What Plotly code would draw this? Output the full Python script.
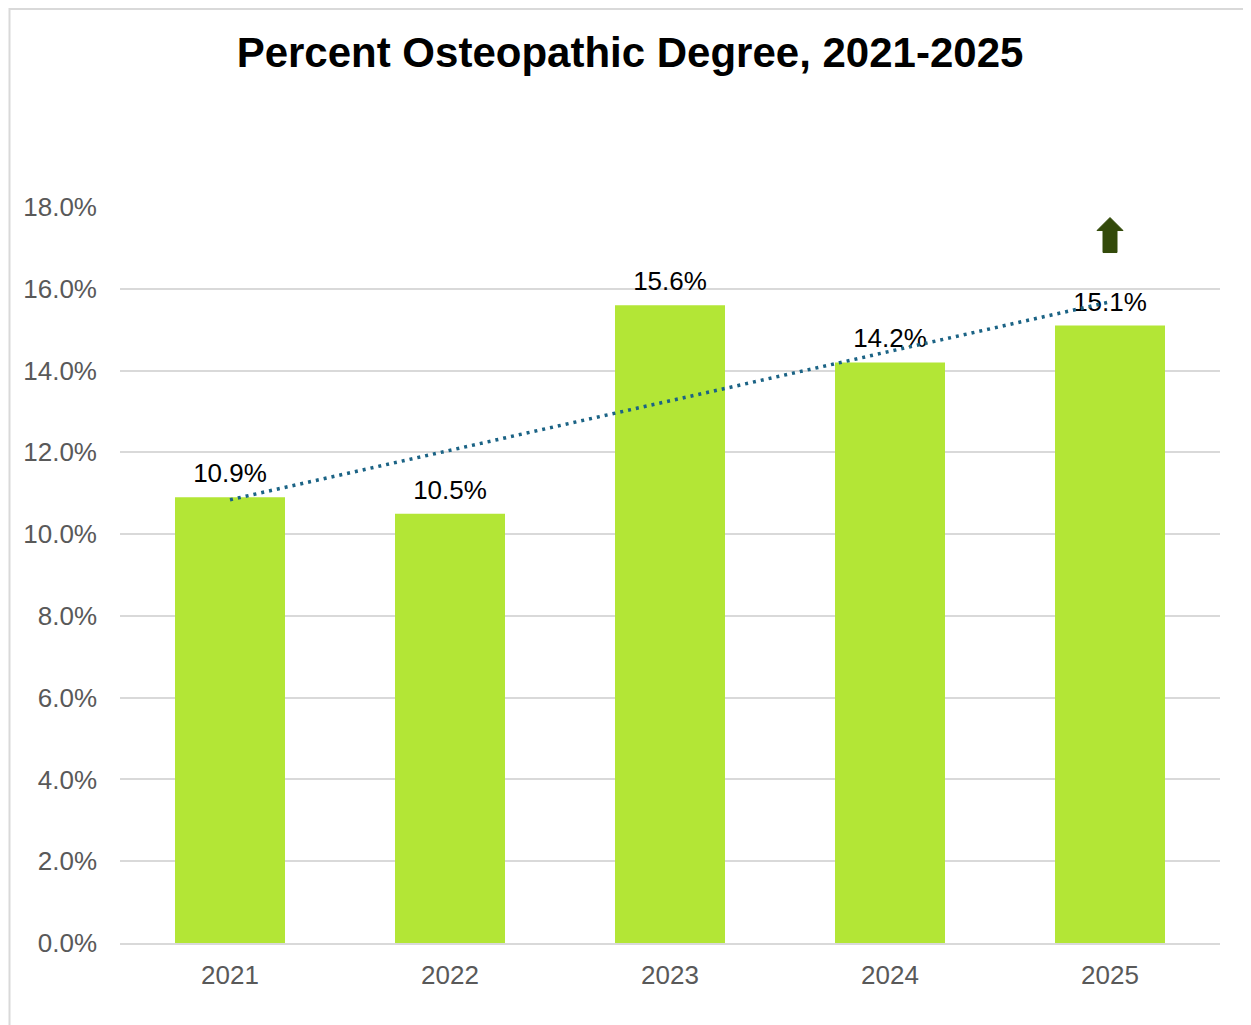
import numpy as np
import plotly.graph_objects as go

years = ["2021", "2022", "2023", "2024", "2025"]
pct_osteopathic = [10.9, 10.5, 15.6, 14.2, 15.1]
y_ticks = [0, 2, 4, 6, 8, 10, 12, 14, 16, 18]

bar_color = "#B3E636"
trend_color = "#1B6385"
grid_color = "#D9D9D9"

# page body adds an 8px margin, so the figure is shrunk by that much
OFF = 8
W, H = 1251 - OFF, 1025 - OFF

# linear trendline like the Excel one
idx = np.arange(1, len(years) + 1)
slope, intercept = np.polyfit(idx, pct_osteopathic, 1)
trend = slope * idx + intercept

fig = go.Figure()
fig.add_trace(go.Bar(
    x=years,
    y=pct_osteopathic,
    marker=dict(color=bar_color, line=dict(width=0)),
    hoverinfo="x+y",
))
# data labels as a text trace so the trendline can sit on top of them
fig.add_trace(go.Scatter(
    x=years,
    y=pct_osteopathic,
    mode="markers+text",
    marker=dict(size=12, color="rgba(0,0,0,0)"),
    text=[f"{v:.1f}%" for v in pct_osteopathic],
    textposition="top center",
    textfont=dict(family="Liberation Sans, Arial", size=26, color="#000000"),
    cliponaxis=False,
    hoverinfo="skip",
))
fig.add_trace(go.Scatter(
    x=years,
    y=trend,
    mode="lines",
    line=dict(color=trend_color, width=3.5, dash="3px,5px"),
    hoverinfo="skip",
))

# up arrow marker above the 2025 bar
fig.add_shape(
    type="path",
    xref="x", yref="y",
    xsizemode="pixel", ysizemode="pixel",
    xanchor=years.index("2025"), yanchor=17.4,
    path="M -7 -21 L 7 -21 L 7 1 L 13 1 L 0 14 L -13 1 L -7 1 Z",
    fillcolor="#334A0A",
    line=dict(color="#334A0A", width=1),
)

# chart frame (only top/left edges visible in the crop)
fig.add_shape(
    type="rect", xref="paper", yref="paper",
    x0=(1.5 - (120 - OFF)) / 1100, x1=1.2, y0=-0.5, y1=(943 - 9) / 736,
    line=dict(color=grid_color, width=2), fillcolor="rgba(0,0,0,0)",
    layer="below",
)

fig.update_layout(
    width=W,
    height=H,
    margin=dict(l=120 - OFF, r=31, t=207 - OFF, b=82),
    paper_bgcolor="white",
    plot_bgcolor="white",
    showlegend=False,
    bargap=0.5,
    font=dict(family="Liberation Sans, Arial", color="#595959", size=26),
    title=dict(
        text="<b>Percent Osteopathic Degree, 2021-2025</b>",
        x=(630 - OFF) / W, xanchor="center",
        y=1 - (52 - OFF) / H, yanchor="middle",
        xref="container", yref="container",
        font=dict(family="Liberation Sans, Arial", size=42, color="#000000"),
    ),
    xaxis=dict(
        type="category",
        range=[-0.5, 4.5],
        showgrid=False,
        showline=True,
        linecolor=grid_color,
        linewidth=2,
        ticks="",
        ticklabelstandoff=8,
        tickfont=dict(size=26, color="#595959"),
    ),
    yaxis=dict(
        range=[0, 18],
        tickvals=y_ticks,
        ticktext=[f"{v:.1f}%" for v in y_ticks],
        showgrid=True,
        gridcolor=grid_color,
        gridwidth=2,
        zeroline=False,
        showline=False,
        ticks="",
        ticklabelstandoff=22,
        tickfont=dict(size=26, color="#595959"),
    ),
)

fig.write_html("out.html")
